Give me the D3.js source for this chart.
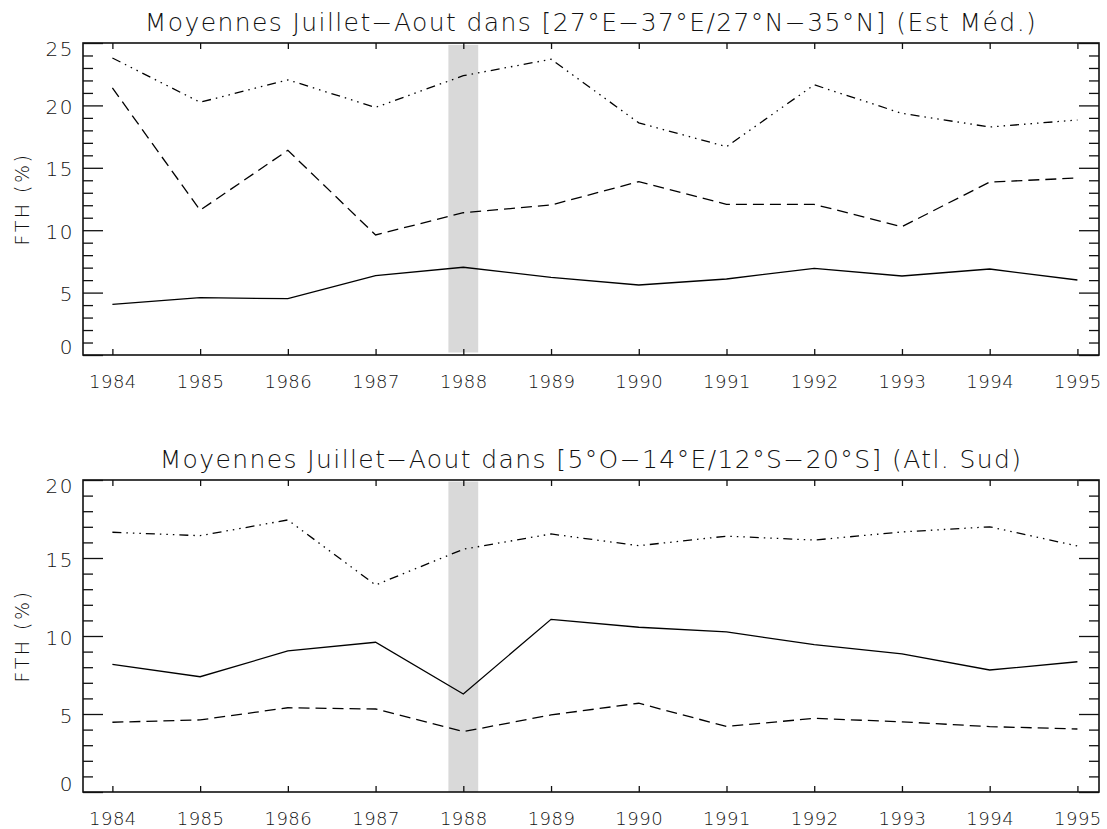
<!DOCTYPE html>
<html>
<head>
<meta charset="utf-8">
<script src="https://cdn.jsdelivr.net/npm/d3@7/dist/d3.min.js"></script>
<style>
  html, body { margin: 0; padding: 0; background: #fff; }
  svg { display: block; }
  text { font-family: "DejaVu Sans", sans-serif; font-weight: 200; fill: #111; }
</style>
</head>
<body>
<svg id="chart" width="1107" height="829"></svg>
<script>
// Years on the horizontal axis
const years = [1984, 1985, 1986, 1987, 1988, 1989, 1990, 1991, 1992, 1993, 1994, 1995];

// Eastern Mediterranean box, July-August means of FTH (%)
const estMedSolid   = [4.06, 4.59, 4.51, 6.36, 7.03, 6.22, 5.61, 6.09, 6.94, 6.33, 6.89, 6.01];
const estMedDashed  = [21.4, 11.6, 16.4, 9.62, 11.4, 12.02, 13.89, 12.07, 12.07, 10.28, 13.86, 14.18];
const estMedDashDot = [23.8, 20.25, 22.05, 19.84, 22.38, 23.7, 18.6, 16.69, 21.65, 19.36, 18.27, 18.83];

// South Atlantic box, July-August means of FTH (%)
const atlSudSolid   = [8.18, 7.39, 9.04, 9.6, 6.28, 11.07, 10.56, 10.26, 9.45, 8.85, 7.82, 8.35];
const atlSudDashed  = [4.47, 4.62, 5.4, 5.32, 3.87, 4.94, 5.69, 4.2, 4.72, 4.5, 4.19, 4.04];
const atlSudDashDot = [16.65, 16.43, 17.44, 13.27, 15.56, 16.54, 15.79, 16.4, 16.15, 16.67, 17.0, 15.77];

// Panel titles and y-axis tick labels
const titles = [
  "Moyennes Juillet\u2212Aout dans [27\u00b0E\u221237\u00b0E/27\u00b0N\u221235\u00b0N] (Est M\u00e9d.)",
  "Moyennes Juillet\u2212Aout dans [5\u00b0O\u221214\u00b0E/12\u00b0S\u221220\u00b0S] (Atl. Sud)"
];
const estMedTicks = [0, 5, 10, 15, 20, 25];
const atlSudTicks = [0, 5, 10, 15, 20];
const yTitle = "FTH (%)";

// Highlighted year (shaded band)
const highlightYear = 1988;

const svg = d3.select("#chart");

const panels = [
  { title: titles[0], ticks: estMedTicks, yMax: 25, top: 43, bottom: 355,
    band: [0.2, 24.85],
    series: [estMedSolid, estMedDashed, estMedDashDot] },
  { title: titles[1], ticks: atlSudTicks, yMax: 20, top: 480, bottom: 792,
    band: [0, 19.9],
    series: [atlSudSolid, atlSudDashed, atlSudDashDot] }
];

const styles = [
  { dash: null },
  { dash: "11,6" },
  { dash: "9,5,1.5,5,1.5,5,1.5,5" }
];

const left = 83, right = 1099;
const x = d3.scaleLinear().domain([1983.665, 1995.246]).range([left, right]);

panels.forEach(p => {
  const y = d3.scaleLinear().domain([0, p.yMax]).range([p.bottom, p.top]);
  const g = svg.append("g");

  // Shaded band around the highlighted year
  g.append("rect")
    .attr("x", x(highlightYear - 0.17))
    .attr("width", x(highlightYear + 0.17) - x(highlightYear - 0.17))
    .attr("y", y(p.band[1]))
    .attr("height", y(p.band[0]) - y(p.band[1]))
    .attr("fill", "#d9d9d9");

  // Data lines
  p.series.forEach((vals, i) => {
    const line = d3.line().x((d, j) => x(years[j])).y(d => y(d));
    g.append("path")
      .datum(vals)
      .attr("d", line)
      .attr("fill", "none")
      .attr("stroke", "#000")
      .attr("stroke-width", 1.3)
      .attr("stroke-dasharray", styles[i].dash);
  });

  // Frame
  g.append("rect")
    .attr("x", left).attr("y", p.top)
    .attr("width", right - left).attr("height", p.bottom - p.top)
    .attr("fill", "none").attr("stroke", "#111").attr("stroke-width", 1.6);

  // X ticks on bottom (labelled) and top, pointing inward
  const gb = g.append("g").attr("transform", `translate(0,${p.bottom})`)
    .call(d3.axisBottom(x).tickValues(years).tickSizeInner(-6).tickSizeOuter(0).tickFormat(d3.format("d")));
  g.append("g").attr("transform", `translate(0,${p.top})`)
    .call(d3.axisTop(x).tickValues(years).tickSizeInner(-6).tickSizeOuter(0).tickFormat(""));

  // Y ticks: majors every 5, minors every 1, on both sides
  const minor = d3.range(0, p.yMax + 1, 1).filter(v => v % 5 !== 0);
  const gl = g.append("g").attr("transform", `translate(${left},0)`)
    .call(d3.axisLeft(y).tickValues(p.ticks).tickSizeInner(-20).tickSizeOuter(0).tickFormat(d3.format("d")));
  g.append("g").attr("transform", `translate(${left},0)`)
    .call(d3.axisLeft(y).tickValues(minor).tickSizeInner(-10).tickSizeOuter(0).tickFormat(""));
  g.append("g").attr("transform", `translate(${right},0)`)
    .call(d3.axisRight(y).tickValues(p.ticks).tickSizeInner(-20).tickSizeOuter(0).tickFormat(""));
  g.append("g").attr("transform", `translate(${right},0)`)
    .call(d3.axisRight(y).tickValues(minor).tickSizeInner(-10).tickSizeOuter(0).tickFormat(""));

  g.selectAll(".domain").remove();
  g.selectAll(".tick line").attr("stroke", "#111").attr("stroke-width", 1.3);

  gb.selectAll(".tick text")
    .attr("y", 27)
    .attr("dy", "0.35em")
    .style("font-family", "DejaVu Sans, sans-serif")
    .style("font-weight", 200)
    .style("font-size", "18px")
    .style("letter-spacing", "0.5px")
    .attr("fill", "#111");

  gl.selectAll(".tick text")
    .attr("x", -9)
    .attr("dy", d => d === 0 ? "-0.1em" : (d === p.yMax ? "0.6em" : "0.4em"))
    .style("font-family", "DejaVu Sans, sans-serif")
    .style("font-weight", 200)
    .style("font-size", "20px")
    .style("letter-spacing", "1.5px")
    .attr("fill", "#111");

  // Title
  g.append("text")
    .attr("x", (left + right) / 2)
    .attr("y", p.top - 12)
    .attr("text-anchor", "middle")
    .style("font-size", "25px")
    .style("letter-spacing", "1.4px")
    .text(p.title);

  // Y-axis title
  g.append("text")
    .attr("transform", `translate(29,${(p.top + p.bottom) / 2}) rotate(-90)`)
    .attr("text-anchor", "middle")
    .style("font-size", "19px")
    .style("letter-spacing", "2.5px")
    .text(yTitle);
});
</script>
</body>
</html>
